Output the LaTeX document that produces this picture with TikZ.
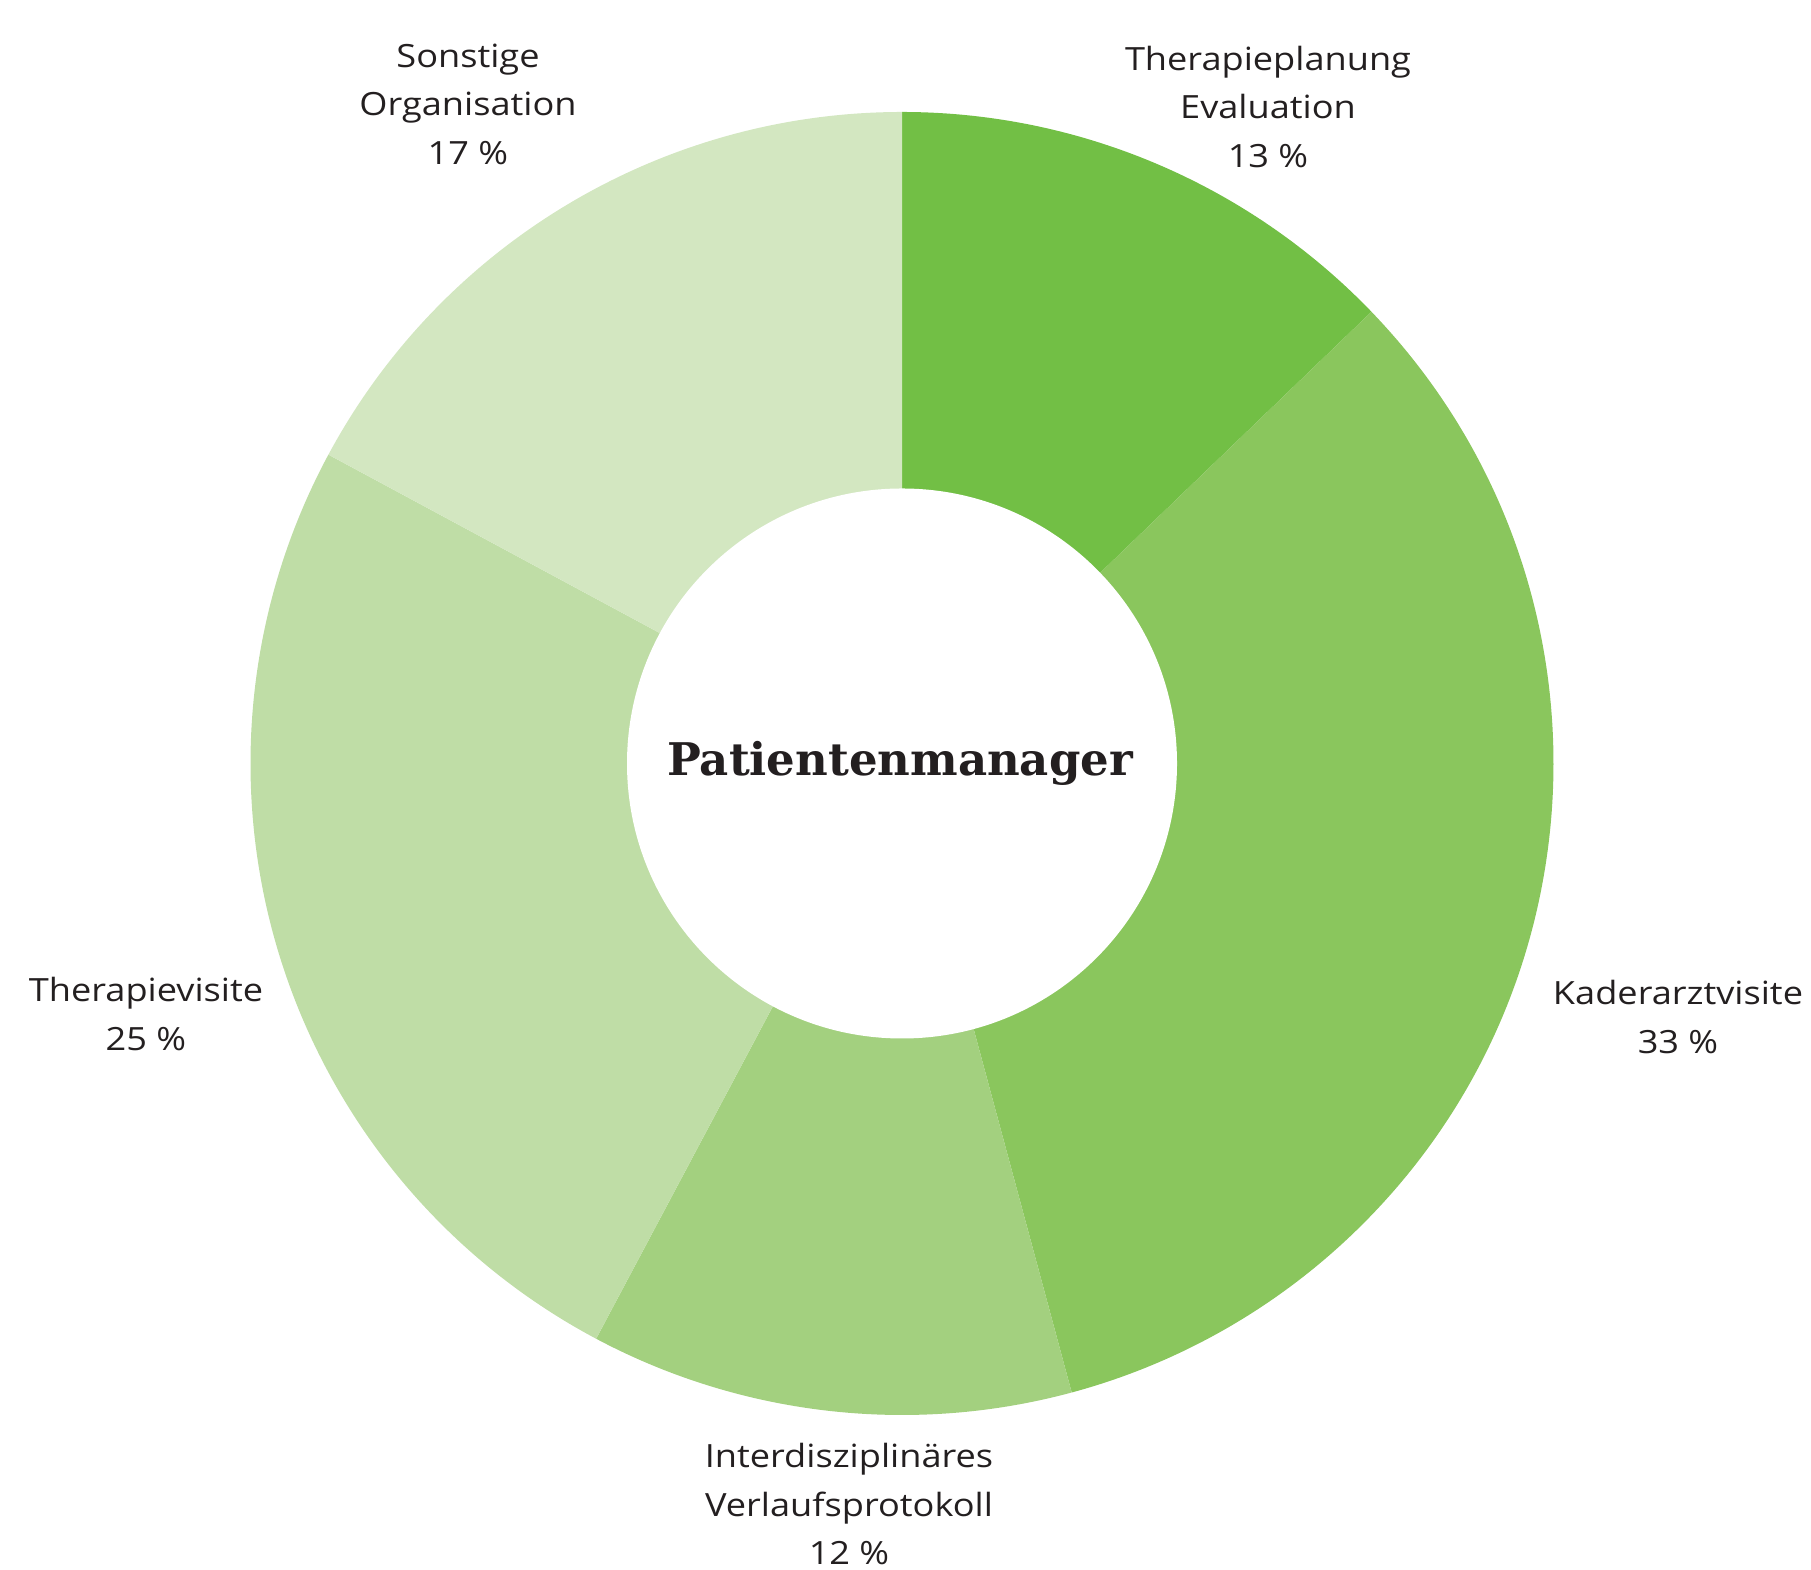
\documentclass[tikz,border=0pt]{standalone}
\usepackage{fontspec}
\setmainfont{Open Sans}[FakeStretch=1.13]
\newfontfamily\titlefont{DejaVu Serif}
\usetikzlibrary{calc}
\definecolor{cA}{HTML}{72BF45}
\definecolor{cB}{HTML}{8AC65D}
\definecolor{cC}{HTML}{A3D07F}
\definecolor{cD}{HTML}{BFDDA6}
\definecolor{cE}{HTML}{D3E7C1}
\definecolor{txt}{HTML}{231F20}
\tikzset{
  lbl/.style={align=center, text=txt, inner sep=0pt,
    font=\fontsize{32}{48.5}\selectfont},
  ttl/.style={text=txt, inner sep=0pt, font=\titlefont\bfseries\fontsize{45}{50}\selectfont}
}
\begin{document}
\begin{tikzpicture}[x=1pt,y=1pt]
\useasboundingbox (0,0) rectangle (1811,1570);
\coordinate (C) at (902,806.5);
\def\RR{651.5}
\def\rr{275}
\fill[cA] (C) -- ($(C)+(90:\RR)$) arc[start angle=90, end angle=43.9, radius=\RR] -- cycle;
\fill[cB] (C) -- ($(C)+(43.9:\RR)$) arc[start angle=43.9, end angle=-74.9, radius=\RR] -- cycle;
\fill[cC] (C) -- ($(C)+(-74.9:\RR)$) arc[start angle=-74.9, end angle=-118, radius=\RR] -- cycle;
\fill[cD] (C) -- ($(C)+(-118:\RR)$) arc[start angle=-118, end angle=-208.3, radius=\RR] -- cycle;
\fill[cE] (C) -- ($(C)+(-208.3:\RR)$) arc[start angle=-208.3, end angle=-270, radius=\RR] -- cycle;
\fill[white] (C) circle[radius=\rr];
\node[ttl] (title) at (900,807) {Patientenmanager};
\node[lbl] (sonst) at (468,1466) {Sonstige\\Organisation\\17 \%};
\node[lbl] (plan) at (1268,1463) {Therapieplanung\\Evaluation\\13 \%};
\node[lbl] (kader) at (1678,553) {Kaderarztvisite\\33 \%};
\node[lbl] (visite) at (146,556) {Therapievisite\\25 \%};
\node[lbl] (inter) at (849,66) {Interdisziplinäres\\Verlaufsprotokoll\\12 \%};
\end{tikzpicture}
\end{document}
